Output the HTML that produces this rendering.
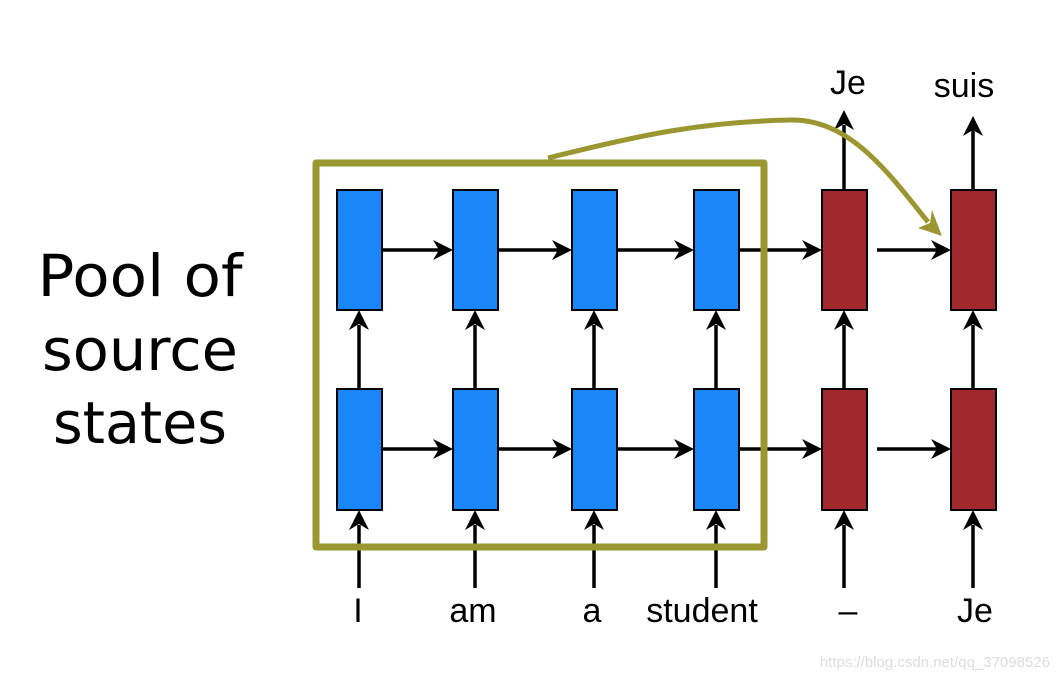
<!DOCTYPE html>
<html><head><meta charset="utf-8"><style>html,body{margin:0;padding:0;background:#fff;}svg{display:block}</style></head>
<body>
<svg width="1058" height="680" viewBox="0 0 1058 680" xmlns="http://www.w3.org/2000/svg">
<defs>
<marker id="a" markerWidth="10" markerHeight="10" refX="9" refY="5" orient="auto" markerUnits="userSpaceOnUse" viewBox="0 0 10 10">
</marker>
</defs>
<g font-family="DejaVu Sans, sans-serif" font-size="58" fill="#000" text-anchor="middle">
<text x="140" y="296" textLength="205" lengthAdjust="spacingAndGlyphs">Pool of</text>
<text x="140" y="370" textLength="196" lengthAdjust="spacingAndGlyphs">source</text>
<text x="140" y="443" textLength="174" lengthAdjust="spacingAndGlyphs">states</text>
</g>
<g stroke="#000" stroke-width="3.5" fill="none">
<!-- horizontal lines -->
<line x1="382" y1="250" x2="440" y2="250"/><line x1="498" y1="250" x2="558" y2="250"/><line x1="617" y1="250" x2="680" y2="250"/><line x1="739" y1="250" x2="808" y2="250"/><line x1="877" y1="250" x2="938" y2="250"/>
<line x1="382" y1="449" x2="440" y2="449"/><line x1="498" y1="449" x2="558" y2="449"/><line x1="617" y1="449" x2="680" y2="449"/><line x1="739" y1="449" x2="808" y2="449"/><line x1="877" y1="449" x2="938" y2="449"/>
<!-- vertical -->
<g id="v">
<line x1="359" y1="388" x2="359" y2="325"/><line x1="359" y1="588" x2="359" y2="525"/>
</g>
<line x1="475" y1="388" x2="475" y2="325"/><line x1="475" y1="588" x2="475" y2="525"/>
<line x1="594" y1="388" x2="594" y2="325"/><line x1="594" y1="588" x2="594" y2="525"/>
<line x1="716" y1="388" x2="716" y2="325"/><line x1="716" y1="588" x2="716" y2="525"/>
<line x1="844" y1="388" x2="844" y2="325"/><line x1="844" y1="588" x2="844" y2="525"/>
<line x1="973" y1="388" x2="973" y2="325"/><line x1="973" y1="588" x2="973" y2="525"/>
<line x1="844" y1="190" x2="844" y2="125"/><line x1="973" y1="190" x2="973" y2="130"/>
</g>
<g fill="#000">
<!-- right arrowheads -->
<path d="M453 250 l-20 -10 l6 10 l-6 10z"/><path d="M572 250 l-20 -10 l6 10 l-6 10z"/><path d="M694 250 l-20 -10 l6 10 l-6 10z"/><path d="M822 250 l-20 -10 l6 10 l-6 10z"/><path d="M951 250 l-20 -10 l6 10 l-6 10z"/>
<path d="M453 449 l-20 -10 l6 10 l-6 10z"/><path d="M572 449 l-20 -10 l6 10 l-6 10z"/><path d="M694 449 l-20 -10 l6 10 l-6 10z"/><path d="M822 449 l-20 -10 l6 10 l-6 10z"/><path d="M951 449 l-20 -10 l6 10 l-6 10z"/>
<!-- up arrowheads -->
<path d="M359 310 l-10 20 l10 -6 l10 6z"/><path d="M359 510 l-10 20 l10 -6 l10 6z"/>
<path d="M475 310 l-10 20 l10 -6 l10 6z"/><path d="M475 510 l-10 20 l10 -6 l10 6z"/>
<path d="M594 310 l-10 20 l10 -6 l10 6z"/><path d="M594 510 l-10 20 l10 -6 l10 6z"/>
<path d="M716 310 l-10 20 l10 -6 l10 6z"/><path d="M716 510 l-10 20 l10 -6 l10 6z"/>
<path d="M844 310 l-10 20 l10 -6 l10 6z"/><path d="M844 510 l-10 20 l10 -6 l10 6z"/>
<path d="M973 310 l-10 20 l10 -6 l10 6z"/><path d="M973 510 l-10 20 l10 -6 l10 6z"/>
<path d="M844 110 l-10 20 l10 -6 l10 6z"/><path d="M973 116 l-10 20 l10 -6 l10 6z"/>
</g>
<g stroke="#000" stroke-width="2">
<rect x="337" y="190" width="45" height="120" fill="#1a86f8"/><rect x="453" y="190" width="45" height="120" fill="#1a86f8"/><rect x="572" y="190" width="45" height="120" fill="#1a86f8"/><rect x="694" y="190" width="45" height="120" fill="#1a86f8"/>
<rect x="337" y="389" width="45" height="121" fill="#1a86f8"/><rect x="453" y="389" width="45" height="121" fill="#1a86f8"/><rect x="572" y="389" width="45" height="121" fill="#1a86f8"/><rect x="694" y="389" width="45" height="121" fill="#1a86f8"/>
<rect x="822" y="190" width="45" height="120" fill="#a1292e"/><rect x="951" y="190" width="45" height="120" fill="#a1292e"/>
<rect x="822" y="389" width="45" height="121" fill="#a1292e"/><rect x="951" y="389" width="45" height="121" fill="#a1292e"/>
</g>
<rect x="316" y="163" width="448" height="384" fill="none" stroke="#9a9632" stroke-width="7" stroke-linejoin="round"/>
<path d="M548 158 C640 135 700 122 790 120 C850 118 890 175 928 222" fill="none" stroke="#9a9632" stroke-width="5"/>
<path d="M942 236 l-24 -8 l12 -5 l2 -13z" fill="#9a9632"/>
<g font-family="Liberation Sans, sans-serif" font-size="34" fill="#000" text-anchor="middle">
<text x="358" y="622">I</text>
<text x="473" y="622">am</text>
<text x="592" y="622">a</text>
<text x="702" y="622">student</text>
<text x="848" y="622">–</text>
<text x="975" y="622">Je</text>
<text x="848" y="94">Je</text>
<text x="964" y="97">suis</text>
</g>
<text x="1050" y="667" font-family="Liberation Sans, sans-serif" font-size="15" fill="#ddd" text-anchor="end">https://blog.csdn.net/qq_37098526</text>
</svg>
</body></html>
